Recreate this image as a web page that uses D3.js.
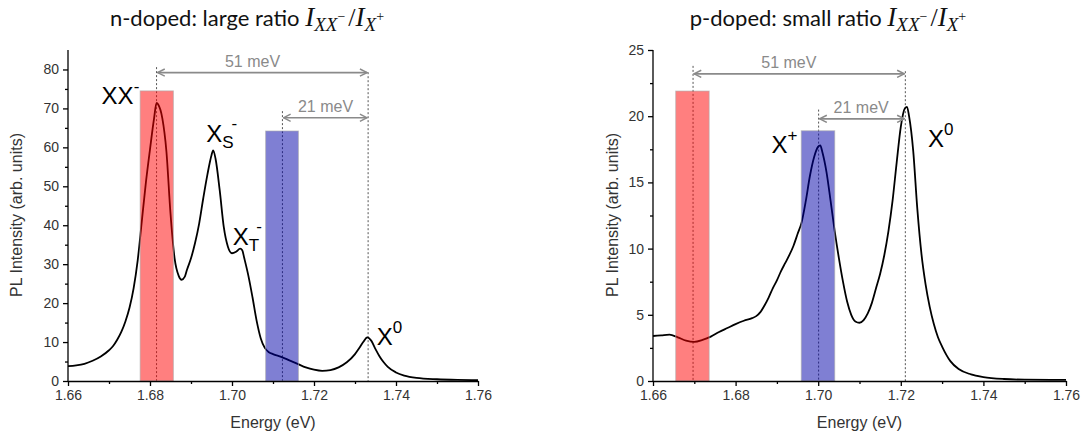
<!DOCTYPE html>
<html><head><meta charset="utf-8">
<script src="https://cdn.jsdelivr.net/npm/d3@7"></script>
<style>
body{margin:0;background:#fff;}
svg{display:block;}
</style></head>
<body>
<svg id="chart" width="1084" height="439"></svg>
<script>
// ---------- DATA ----------
const energyN = [1.660,1.662,1.664,1.666,1.668,1.670,1.671,1.672,1.673,1.674,1.675,1.676,1.677,1.678,1.679,1.680,1.681,1.6816,1.682,1.683,1.684,1.685,1.686,1.687,1.6877,1.6885,1.689,1.690,1.691,1.692,1.693,1.694,1.695,1.6954,1.696,1.697,1.698,1.699,1.700,1.701,1.702,1.7025,1.703,1.704,1.705,1.706,1.707,1.708,1.709,1.710,1.712,1.714,1.716,1.718,1.720,1.722,1.724,1.726,1.728,1.730,1.731,1.732,1.733,1.734,1.735,1.736,1.737,1.738,1.740,1.742,1.745,1.750,1.755,1.760];
const intensityN = [3.8,4.0,4.4,5.2,6.3,7.9,9.0,10.6,12.6,15.3,18.8,23.8,31.0,41.0,51.0,59.5,67.5,71.4,71.0,67.5,59.0,43.0,31.5,27.0,26.0,26.8,28.5,31.5,35.5,40.5,47.0,53.0,58.0,59.2,57.0,49.0,39.5,34.5,32.8,33.2,34.0,33.6,31.5,27.0,21.5,15.5,11.0,8.5,7.4,6.9,6.2,5.3,4.4,3.5,2.9,2.6,2.8,3.5,4.8,6.9,8.4,10.0,11.2,10.3,8.2,6.3,4.8,3.6,2.2,1.4,0.8,0.45,0.3,0.25];

const energyP = [1.660,1.662,1.664,1.666,1.668,1.670,1.672,1.674,1.676,1.678,1.680,1.682,1.684,1.685,1.686,1.687,1.688,1.689,1.690,1.691,1.692,1.693,1.694,1.695,1.696,1.697,1.698,1.699,1.700,1.7005,1.701,1.702,1.703,1.704,1.705,1.706,1.707,1.708,1.709,1.710,1.711,1.712,1.713,1.714,1.715,1.716,1.717,1.718,1.719,1.720,1.721,1.7215,1.722,1.723,1.724,1.725,1.726,1.727,1.728,1.729,1.730,1.732,1.734,1.737,1.740,1.745,1.750,1.760];
const intensityP = [3.4,3.45,3.5,3.3,3.05,2.95,3.1,3.35,3.7,4.0,4.3,4.55,4.75,4.9,5.2,5.7,6.3,7.0,7.6,8.3,8.9,9.5,10.2,11.1,12.0,13.6,15.5,16.9,17.7,17.8,17.3,15.8,13.6,11.3,9.3,7.5,6.0,5.0,4.5,4.4,4.6,5.1,5.9,7.0,8.1,9.5,11.3,13.6,16.5,19.2,20.6,20.7,20.0,17.4,13.0,9.6,7.3,5.6,4.3,3.3,2.6,1.5,0.9,0.5,0.3,0.15,0.1,0.08];

const xTicks = [1.66,1.68,1.70,1.72,1.74,1.76];
const xTickLabels = ["1.66","1.68","1.70","1.72","1.74","1.76"];
const xMinor = [1.67,1.69,1.71,1.73,1.75];
const yTicksN = [0,10,20,30,40,50,60,70,80];
const yMinorN = [5,15,25,35,45,55,65,75];
const yTicksP = [0,5,10,15,20,25];
const yMinorP = [2.5,7.5,12.5,17.5,22.5];

// shaded bands: [E start, E end, top value]
const redBandN = [1.6776,1.6857,74.5];
const blueBandN = [1.7082,1.7162,64.2];
const redBandP = [1.6655,1.6736,21.9];
const blueBandP = [1.6959,1.7040,18.9];

// dashed marker lines: [E, top value]
const markersN = [[1.6816,80.6],[1.7123,69.3],[1.7332,79.3]];
const markersP = [[1.6697,23.8],[1.7001,20.5],[1.7211,23.4]];

// arrows: [E from, E to, level, label, label E]
const arrowsN = [[1.6816,1.7332,79.2,"51 meV",1.7050],[1.7123,1.7332,67.6,"21 meV",1.7228]];
const arrowsP = [[1.6697,1.7211,23.2,"51 meV",1.6929],[1.7001,1.7211,19.8,"21 meV",1.7104]];

// peak labels: [E, value, main, sub, sup]
const peakLabelsN = [[1.6682,71.2,"XX","","-"],[1.6937,61.4,"X","S","-"],[1.7002,34.9,"X","T","-"],[1.7353,9.2,"X","","0"]];
const peakLabelsP = [[1.6887,17.2,"X","","+"],[1.7266,17.7,"X","","0"]];

// ---------- DRAW ----------
const svg = d3.select("#chart");
const defs = svg.append("defs");
defs.append("marker").attr("id","arr").attr("viewBox","0 0 10 10").attr("refX",9).attr("refY",5)
  .attr("markerWidth",9).attr("markerHeight",9).attr("markerUnits","userSpaceOnUse")
  .attr("orient","auto-start-reverse")
  .append("path").attr("d","M1,1 L9,5 L1,9").attr("fill","none").attr("stroke","#8a8a8a").attr("stroke-width",1.6);

const SANS = "'Liberation Sans', Arial, sans-serif";
const SERIF = "'Liberation Serif', 'DejaVu Serif', serif";

function panel(opt){
  const x = d3.scaleLinear().domain([1.66,1.76]).range(opt.xr);
  const y = d3.scaleLinear().domain(opt.yd).range([381,50]);
  const g = svg.append("g");

  // dashed markers (below bands)
  opt.markers.forEach(m=>{
    g.append("line").attr("x1",x(m[0])).attr("x2",x(m[0])).attr("y1",y(m[1])).attr("y2",y(0))
      .attr("stroke","#555").attr("stroke-width",1).attr("stroke-dasharray","2,2");
  });

  // spectrum
  const line = d3.line().x((d,i)=>x(opt.E[i])).y(d=>y(d)).curve(d3.curveMonotoneX);
  g.append("path").datum(opt.I).attr("d",line).attr("fill","none").attr("stroke","#000").attr("stroke-width",1.8);

  // bands drawn over the curve with transparency
  [[opt.red,"#ff0000"],[opt.blue,"#0000a8"]].forEach(([b,c])=>{
    g.append("rect").attr("x",x(b[0])).attr("y",y(b[2])).attr("width",x(b[1])-x(b[0])).attr("height",y(0)-y(b[2]))
      .attr("fill",c).attr("fill-opacity",0.5).attr("stroke","#aaa").attr("stroke-opacity",0.6).attr("stroke-width",1);
  });

  // arrows
  opt.arrows.forEach(a=>{
    g.append("line").attr("x1",x(a[0])+1).attr("x2",x(a[1])-1).attr("y1",y(a[2])).attr("y2",y(a[2]))
      .attr("stroke","#8a8a8a").attr("stroke-width",1.6)
      .attr("marker-start","url(#arr)").attr("marker-end","url(#arr)");
    g.append("text").attr("x",x(a[4])).attr("y",y(a[2])-6).attr("text-anchor","middle")
      .attr("font-family",SANS).attr("font-size",16).attr("fill","#8a8a8a").text(a[3]);
  });

  // peak labels
  opt.labels.forEach(l=>{
    const t = g.append("text").attr("x",x(l[0])).attr("y",y(l[1])).attr("font-family",SANS).attr("font-size",24).attr("fill","#000");
    t.append("tspan").text(l[2]);
    if(l[3]){
      t.append("tspan").attr("font-size",17).attr("dy",6).text(l[3]);
      t.append("tspan").attr("font-size",17).attr("dy",-19).attr("dx",-2).text(l[4]);
    } else {
      t.append("tspan").attr("font-size",17).attr("dy",-12).text(l[4]);
    }
  });

  // axes
  const xa = g.append("g").attr("transform","translate(0,381)")
    .call(d3.axisBottom(x).tickValues(xTicks).tickFormat((d,i)=>xTickLabels[i]).tickSize(5).tickSizeOuter(0).tickPadding(4));
  const xm = g.append("g").attr("transform","translate(0,381)")
    .call(d3.axisBottom(x).tickValues(xMinor).tickFormat("").tickSize(3).tickSizeOuter(0));
  const ya = g.append("g").attr("transform",`translate(${opt.xr[0]},0)`)
    .call(d3.axisLeft(y).tickValues(opt.yt).tickSize(5).tickSizeOuter(0).tickPadding(4));
  const ym = g.append("g").attr("transform",`translate(${opt.xr[0]},0)`)
    .call(d3.axisLeft(y).tickValues(opt.ym).tickFormat("").tickSize(3).tickSizeOuter(0));
  [xa,xm,ya,ym].forEach(a=>{
    a.selectAll("path,line").attr("stroke","#000").attr("stroke-width",1.3);
    a.selectAll("text").attr("font-family",SANS).attr("font-size",14).attr("fill","#333");
  });
  xm.select(".domain").remove(); ym.select(".domain").remove();
  ya.select(".domain").attr("d",`M0,${y(opt.yd[1])}V381`);

  // axis titles
  g.append("text").attr("x",(opt.xr[0]+opt.xr[1])/2).attr("y",428).attr("text-anchor","middle")
    .attr("font-family",SANS).attr("font-size",16).attr("fill","#333").text("Energy (eV)");
  g.append("text").attr("transform",`translate(${opt.ylabX},215) rotate(-90)`).attr("text-anchor","middle")
    .attr("dy","0.35em").attr("font-family",SANS).attr("font-size",16).attr("fill","#333").text("PL Intensity (arb. units)");

  // title
  const tt = svg.append("text").attr("x",opt.titleX).attr("y",26).attr("text-anchor","middle")
    .attr("font-family","Lato, 'Open Sans', sans-serif").attr("font-size",22).attr("fill","#111");
  tt.append("tspan").text(opt.title + " ");
  tt.append("tspan").attr("font-family",SERIF).attr("font-style","italic").attr("font-size",27).text("I");
  tt.append("tspan").attr("font-family",SERIF).attr("font-style","italic").attr("font-size",19).attr("dy",5).text("XX");
  tt.append("tspan").attr("font-family",SERIF).attr("font-size",14).attr("dy",-10).text("−");
  tt.append("tspan").attr("font-family",SERIF).attr("font-size",26).attr("dy",5).attr("dx",3).text("/");
  tt.append("tspan").attr("font-family",SERIF).attr("font-style","italic").attr("font-size",27).text("I");
  tt.append("tspan").attr("font-family",SERIF).attr("font-style","italic").attr("font-size",19).attr("dy",5).text("X");
  tt.append("tspan").attr("font-family",SERIF).attr("font-size",14).attr("dy",-10).text("+");
}

panel({xr:[68,478], yd:[0,85], yt:yTicksN, ym:yMinorN, E:energyN, I:intensityN,
  red:redBandN, blue:blueBandN, markers:markersN, arrows:arrowsN, labels:peakLabelsN,
  ylabX:16, titleX:247, title:"n-doped: large ratio"});
panel({xr:[653,1066], yd:[0,25], yt:yTicksP, ym:yMinorP, E:energyP, I:intensityP,
  red:redBandP, blue:blueBandP, markers:markersP, arrows:arrowsP, labels:peakLabelsP,
  ylabX:612, titleX:828, title:"p-doped: small ratio"});
</script>
</body></html>
